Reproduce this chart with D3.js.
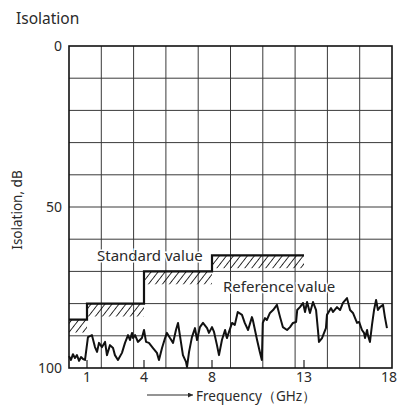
<!DOCTYPE html>
<html>
<head>
<meta charset="utf-8">
<script src="https://cdn.jsdelivr.net/npm/d3@7"></script>
<style>
  html, body { margin: 0; padding: 0; background: #fff; }
  svg { display: block; font-family: "Noto Sans", "Open Sans", sans-serif; }
</style>
</head>
<body>
<svg id="chart" width="412" height="412"></svg>
<script>
// ---------- data ----------
const chartTitle = "Isolation";
const yTitle = "Isolation, dB";
const xTitle = "Frequency（GHz）";
const yTickLabels = [0, 50, 100];
const xTickLabels = [1, 4, 8, 13, 18];

// standard value steps (GHz from, GHz to, dB)
const stepFrom = [0, 1, 4, 8];
const stepTo = [1, 4, 8, 13];
const stepValue = [85, 80, 70, 65];
const hatchDepth = 4; // dB of hatched band under each step

// measured isolation curve
const freqGHz = [0,0.11,0.22,0.33,0.44,0.56,0.67,0.78,0.89,1.05,1.26,1.42,1.53,1.63,1.79,1.95,2.05,2.21,2.37,2.47,2.63,2.84,3.0,3.16,3.26,3.37,3.42,3.53,3.68,3.89,4.0,4.12,4.29,4.53,4.76,4.88,5.06,5.24,5.35,5.53,5.71,5.88,6.0,6.18,6.29,6.47,6.53,6.65,6.82,7.0,7.12,7.29,7.47,7.71,7.82,8.0,8.11,8.27,8.38,8.54,8.71,8.81,9.09,9.24,9.40,9.63,9.78,9.96,10.17,10.22,10.45,10.6,10.71,10.76,10.88,10.98,11.15,11.32,11.53,11.7,11.85,12.08,12.24,12.40,12.57,12.63,12.78,12.95,13.06,13.18,13.35,13.53,13.71,13.82,13.88,14.06,14.18,14.29,14.35,14.59,14.71,14.94,15.12,15.29,15.53,15.71,15.88,16.12,16.24,16.41,16.53,16.59,16.71,16.76,16.88,17.0,17.12,17.24,17.35,17.47,17.65,17.76,17.88];
const isolationDB = [96.3,97.5,95.7,96.9,96.0,97.8,96.6,97.2,97.5,90.4,89.8,93.5,95.0,92.2,93.5,91.9,96.0,92.9,93.8,96.0,97.5,95.3,92.2,89.8,91.3,89.1,90.7,89.8,91.9,90.7,88.2,91.9,92.2,93.8,95.3,97.5,93.8,90.7,89.1,90.7,92.2,88.2,86.0,92.2,96.0,98.1,99.7,95.0,90.4,87.6,91.3,87.3,86.0,87.6,89.1,87.3,88.8,92.9,96.0,91.3,88.2,90.7,86.0,86.6,82.6,83.5,86.0,88.2,84.2,85.1,91.3,95.0,97.5,86.0,84.5,85.1,82.9,82.0,80.4,84.2,87.3,88.2,87.3,86.0,85.7,82.0,81.1,79.8,82.6,79.5,82.9,79.5,82.0,88.2,91.9,90.7,89.1,87.6,83.5,81.4,82.6,81.1,82.0,79.8,78.3,82.0,82.9,86.0,85.7,88.2,89.1,90.7,88.2,89.8,91.9,86.6,82.0,78.9,82.0,81.1,80.4,84.2,87.6];

const annotations = ["Standard value", "Reference value"];

// ---------- layout ----------
const svg = d3.select("#chart");
const L = 69, R = 392, T = 46, B = 368;
const ink = "#2a2a2a";

// frequency axis is not linear on the original plot: piecewise scale
const x = d3.scaleLinear()
  .domain([0, 1, 4, 8, 13, 18, 18.2])
  .range([L, 87, 144, 212, 304, 389, R]);
const y = d3.scaleLinear().domain([0, 100]).range([T, B]);
const gridX = d3.scaleLinear().domain([0, 10]).range([L, R]);

// hatch pattern
const defs = svg.append("defs");
const pat = defs.append("pattern")
  .attr("id", "hatch").attr("patternUnits", "userSpaceOnUse")
  .attr("width", 5.5).attr("height", 6)
  .attr("patternTransform", "rotate(38)");
pat.append("line").attr("x1", 0).attr("y1", 0).attr("x2", 0).attr("y2", 6)
  .attr("stroke", "#000").attr("stroke-width", 1.6);

// grid
const g = svg.append("g");
g.selectAll("line.v").data(d3.range(1, 10)).join("line")
  .attr("x1", d => gridX(d)).attr("x2", d => gridX(d))
  .attr("y1", T).attr("y2", B)
  .attr("stroke", "#3a3a3a").attr("stroke-width", 1);
g.selectAll("line.h").data(d3.range(10, 100, 10)).join("line")
  .attr("x1", L).attr("x2", R)
  .attr("y1", d => y(d)).attr("y2", d => y(d))
  .attr("stroke", "#3a3a3a").attr("stroke-width", 1);

// small ticks at labelled frequencies
g.selectAll("line.t").data(xTickLabels.slice(0, 4)).join("line")
  .attr("x1", d => x(d)).attr("x2", d => x(d))
  .attr("y1", B).attr("y2", B - 8)
  .attr("stroke", "#222").attr("stroke-width", 1.2);

// hatched bands
const steps = stepFrom.map((f, i) => ({ f0: f, f1: stepTo[i], v: stepValue[i] }));
svg.append("g").selectAll("rect").data(steps).join("rect")
  .attr("x", d => x(d.f0)).attr("width", d => x(d.f1) - x(d.f0))
  .attr("y", d => y(d.v)).attr("height", d => y(d.v + hatchDepth) - y(d.v))
  .attr("fill", "url(#hatch)");

// standard value step line
const stepPts = [];
steps.forEach(d => { stepPts.push([d.f0, d.v]); stepPts.push([d.f1, d.v]); });
svg.append("path")
  .attr("d", d3.line().x(d => x(d[0])).y(d => y(d[1]))(stepPts))
  .attr("fill", "none").attr("stroke", "#111").attr("stroke-width", 2.2);

// measured curve
const meas = freqGHz.map((f, i) => [f, isolationDB[i]]);
svg.append("path")
  .attr("d", d3.line().x(d => x(d[0])).y(d => y(d[1]))(meas))
  .attr("fill", "none").attr("stroke", "#111").attr("stroke-width", 2)
  .attr("stroke-linejoin", "round");

// frame
svg.append("rect").attr("x", L).attr("y", T).attr("width", R - L).attr("height", B - T)
  .attr("fill", "none").attr("stroke", "#111").attr("stroke-width", 1.6);

// y tick labels
svg.append("g").selectAll("text").data(yTickLabels).join("text")
  .attr("x", L - 7).attr("y", d => y(d)).attr("dy", "0.35em")
  .attr("text-anchor", "end").attr("font-size", 14).attr("fill", ink)
  .text(d => d);

// x tick labels
svg.append("g").selectAll("text").data(xTickLabels).join("text")
  .attr("x", d => x(d)).attr("y", 382)
  .attr("text-anchor", "middle").attr("font-size", 14).attr("fill", ink)
  .text(d => d);

// titles
svg.append("text").attr("x", 16).attr("y", 24).attr("font-size", 15.5)
  .attr("fill", ink).text(chartTitle);
svg.append("text").attr("transform", "translate(22,210) rotate(-90)")
  .attr("text-anchor", "middle").attr("font-size", 13.5).attr("fill", ink)
  .text(yTitle);

// x title with arrow
defs.append("marker").attr("id", "arr").attr("viewBox", "0 0 10 10")
  .attr("refX", 10).attr("refY", 5).attr("markerWidth", 8).attr("markerHeight", 5)
  .attr("markerUnits", "userSpaceOnUse").attr("orient", "auto")
  .append("path").attr("d", "M0,0L10,5L0,10Z").attr("fill", ink);
svg.append("line").attr("x1", 147).attr("x2", 193).attr("y1", 395).attr("y2", 395)
  .attr("stroke", ink).attr("stroke-width", 1.2).attr("marker-end", "url(#arr)");
svg.append("text").attr("x", 196).attr("y", 401).attr("font-size", 13.5)
  .attr("fill", ink).text(xTitle);

// annotations
svg.append("text").attr("x", 97).attr("y", 261).attr("font-size", 15)
  .attr("fill", ink).attr("stroke", "#fff").attr("stroke-width", 3)
  .attr("paint-order", "stroke").text(annotations[0]);
svg.append("text").attr("x", 223).attr("y", 292).attr("font-size", 15)
  .attr("fill", ink).attr("stroke", "#fff").attr("stroke-width", 3)
  .attr("paint-order", "stroke").text(annotations[1]);
</script>
</body>
</html>
